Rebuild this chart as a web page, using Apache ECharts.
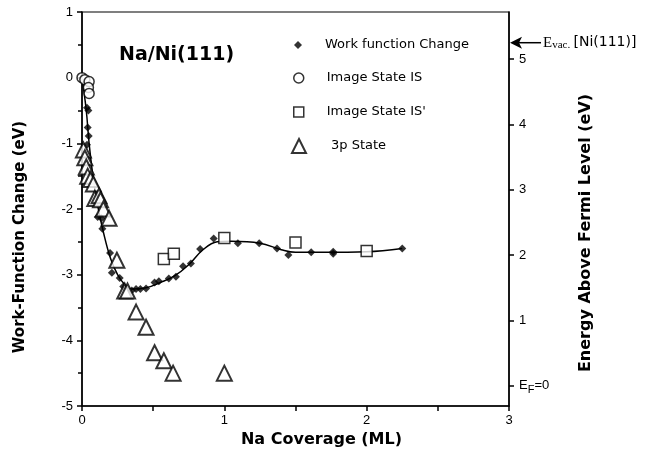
<!DOCTYPE html>
<html><head><meta charset="utf-8">
<script src="https://cdn.jsdelivr.net/npm/echarts@6/dist/echarts.min.js"></script>
<style>html,body{margin:0;padding:0;background:#fff}#c{width:652px;height:459px}</style>
</head><body><div id="c"></div>
<script>
// ---- data ----
const rightTicks = [0, 1, 2, 3, 4, 5];
const evacLevel = 5.25;           // E_vac [Ni(111)] on right axis (eV)
const workFunction = [
  [0.035,-0.46],[0.045,-0.50],[0.040,-0.76],[0.047,-0.89],[0.035,-1.02],
  [0.110,-2.12],[0.136,-2.14],[0.143,-2.30],[0.197,-2.67],[0.210,-2.97],
  [0.265,-3.05],[0.290,-3.18],[0.350,-3.24],[0.380,-3.22],[0.410,-3.22],
  [0.450,-3.21],[0.510,-3.12],[0.540,-3.10],[0.610,-3.06],[0.660,-3.03],
  [0.710,-2.87],[0.765,-2.83],[0.830,-2.61],[0.925,-2.45],[1.095,-2.52],
  [1.245,-2.52],[1.370,-2.60],[1.450,-2.70],[1.610,-2.66],[1.765,-2.65],
  [1.765,-2.68],[2.250,-2.60]
];
const fitCurve = [
  [0,0],[0.03,-0.5],[0.05,-1.0],[0.08,-1.55],[0.11,-1.95],[0.15,-2.35],
  [0.20,-2.75],[0.25,-3.0],[0.30,-3.15],[0.35,-3.22],[0.45,-3.20],
  [0.55,-3.12],[0.65,-3.02],[0.75,-2.85],[0.85,-2.62],[0.95,-2.50],
  [1.05,-2.49],[1.25,-2.52],[1.40,-2.62],[1.50,-2.66],[1.70,-2.66],
  [2.00,-2.65],[2.25,-2.60]
];
const imageStateIS = [[0,0],[0.02,-0.03],[0.05,-0.06],[0.045,-0.15],[0.05,-0.24]];
const imageStateISp = [[0.575,-2.76],[0.645,-2.68],[1.0,-2.44],[1.5,-2.51],[2.0,-2.64]];
const state3p = [
  [0.01,-1.10],[0.02,-1.22],[0.03,-1.36],[0.04,-1.50],[0.06,-1.55],[0.08,-1.62],
  [0.09,-1.84],[0.12,-1.80],[0.13,-1.86],[0.15,-2.00],[0.19,-2.14],[0.245,-2.78],
  [0.30,-3.25],[0.32,-3.25],[0.38,-3.57],[0.45,-3.80],[0.51,-4.19],[0.575,-4.31],
  [0.64,-4.50],[1.0,-4.50]
];
const legendNames = ['Work function Change','Image State IS',"Image State IS'",'3p State'];

const FONT = 'Liberation Sans, Arial, sans-serif';
const WIDE = 'DejaVu Sans, sans-serif';
const chart = echarts.init(document.getElementById('c'), null, {renderer:'canvas'});
const axisLineStyle = {color:'#000', width:1.5};
function legendRow(name, icon, size, cy, padLeft, style){
  return {orient:'vertical', itemWidth:size, itemHeight:size, padding:0, selectedMode:false,
    left:298 - size/2, top:cy - 8,
    textStyle:{fontFamily:WIDE, fontSize:13, color:'#000', padding:[0,0,0,padLeft], lineHeight:16},
    data:[{name:name, icon:icon, itemStyle:style}]};
}
const hollow = {color:'#fff', borderColor:'#000', borderWidth:1.5};

chart.setOption({
  animation:false,
  backgroundColor:'#fff',
  title:{text:'Na/Ni(111)', left:114, top:41,
    textStyle:{fontFamily:WIDE, fontSize:19, fontWeight:'bold', color:'#000'}},
  legend:[
    legendRow(legendNames[0], 'diamond', 8, 45, 18, {color:'#000'}),
    legendRow(legendNames[1], 'circle', 10, 78, 18, hollow),
    legendRow(legendNames[2], 'rect', 10, 112, 18, hollow),
    legendRow(legendNames[3], 'triangle', 14, 146, 20, {color:'#fff', borderColor:'#000', borderWidth:2})
  ],
  grid:{left:82, right:143, top:12, bottom:53, show:true, borderColor:'#000', borderWidth:1.2},
  xAxis:{type:'value', min:0, max:3, interval:1,
    name:'Na Coverage (ML)', nameLocation:'middle', nameGap:26,
    nameTextStyle:{fontFamily:WIDE, fontSize:16, fontWeight:'bold', color:'#000', padding:[0,0,0,52]},
    axisLine:{onZero:false, lineStyle:axisLineStyle}, axisTick:{length:5, lineStyle:axisLineStyle},
    minorTick:{show:true, splitNumber:2, length:5, lineStyle:{color:'#000', width:1.5}},
    axisLabel:{color:'#000', fontFamily:FONT, fontSize:13, margin:8},
    splitLine:{show:false}},
  yAxis:[
    {type:'value', min:-5, max:1, interval:1, position:'left',
      name:'Work-Function Change (eV)', nameLocation:'middle', nameGap:54, nameRotate:90,
      nameTextStyle:{fontFamily:WIDE, fontSize:15, fontWeight:'bold', color:'#000', padding:[0,56,0,0]},
      axisLine:{onZero:false, lineStyle:axisLineStyle}, axisTick:{length:5, lineStyle:axisLineStyle},
      minorTick:{show:true, splitNumber:2, length:4, lineStyle:{color:'#000', width:1.5}},
      axisLabel:{color:'#000', fontFamily:FONT, fontSize:13, margin:9},
      splitLine:{show:false}},
    {type:'value', min:-0.31, max:5.72, position:'right',
      name:'Energy Above Fermi Level (eV)', nameLocation:'middle', nameGap:69, nameRotate:90,
      nameTextStyle:{fontFamily:WIDE, fontSize:16, fontWeight:'bold', color:'#000', padding:[0,48,0,0]},
      axisLine:{show:true, onZero:false, lineStyle:axisLineStyle},
      axisTick:{show:true, length:5, lineStyle:axisLineStyle, customValues:rightTicks},
      axisLabel:{color:'#000', fontFamily:FONT, fontSize:13, margin:10, customValues:rightTicks,
        formatter:function(v){ return v===0 ? '{e|E}{f|F}{e|=0}' : String(v); },
        rich:{e:{fontFamily:FONT, fontSize:13, color:'#000'},
              f:{fontFamily:FONT, fontSize:11, color:'#000', padding:[9,0,0,0]}}},
      splitLine:{show:false}}
  ],
  series:[
    {name:'fit', type:'line', data:fitCurve, smooth:0.4, showSymbol:false, silent:true,
      lineStyle:{color:'#000', width:1.5}, z:2},
    {name:legendNames[0], type:'scatter', data:workFunction, symbol:'diamond', symbolSize:8,
      itemStyle:{color:'#000'}, z:3},
    {name:legendNames[1], type:'scatter', data:imageStateIS, symbol:'circle', symbolSize:10,
      itemStyle:hollow, z:4},
    {name:legendNames[2], type:'scatter', data:imageStateISp, symbol:'rect', symbolSize:11,
      itemStyle:hollow, z:4},
    {name:legendNames[3], type:'scatter', data:state3p, symbol:'triangle', symbolSize:15,
      itemStyle:{color:'#fff', borderColor:'#000', borderWidth:2}, z:5}
  ]
});

// E_vac annotation arrow placed via the right axis scale
const yv = chart.convertToPixel({yAxisIndex:1}, evacLevel);
const xr = chart.convertToPixel({xAxisIndex:0}, 3);
chart.setOption({graphic:[
  {type:'line', shape:{x1:xr+8, y1:yv, x2:xr+32, y2:yv}, style:{stroke:'#000', lineWidth:1.5}},
  {type:'polygon', shape:{points:[[xr+1,yv],[xr+13,yv-6],[xr+10,yv],[xr+13,yv+6]]}, style:{fill:'#000'}},
  {type:'text', x:xr+34, y:yv, style:{text:'{e|E}{v|vac.} {b|[Ni(111)]}', verticalAlign:'middle',
    rich:{e:{fontFamily:'Liberation Serif, serif', fontSize:15, color:'#000'},
          v:{fontFamily:'Liberation Serif, serif', fontSize:11, color:'#000', padding:[4,0,0,0]},
          b:{fontFamily:WIDE, fontSize:14, color:'#000'}}}}
]});
</script>
</body></html>
